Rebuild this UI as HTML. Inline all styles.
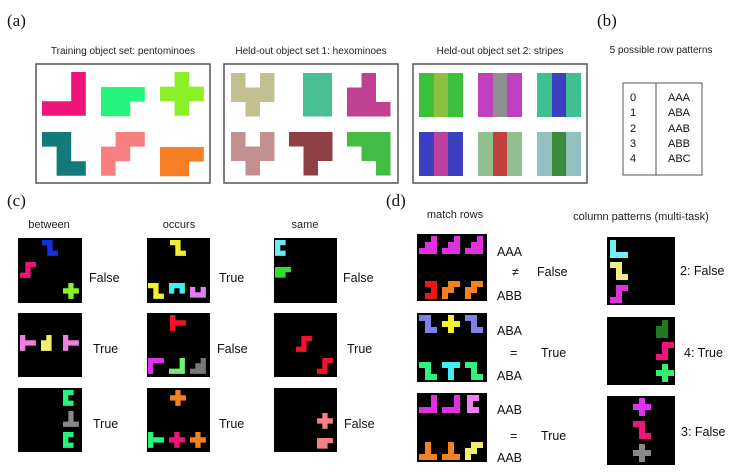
<!DOCTYPE html>
<html><head><meta charset="utf-8"><style>
html,body{margin:0;padding:0;background:#fff;}
svg{display:block;}
.t{font-family:"Liberation Sans",sans-serif;font-size:10px;fill:#222;}
.l{font-family:"Liberation Sans",sans-serif;font-size:12.5px;fill:#111;}
.p{font-family:"Liberation Serif",serif;font-size:17px;fill:#111;}
</style></head><body>
<svg width="740" height="473" viewBox="0 0 740 473" xmlns="http://www.w3.org/2000/svg">
<defs>
<path id="L" d="M2 0h1v3h-3v-1h2z"/>
<path id="P" d="M0 0h3v1h-1v1h-2z"/>
<path id="X" d="M1 0h1v1h1v1h-1v1h-1v-1h-1v-1h1z"/>
<path id="Z" d="M0 0h2v2h1v1h-2v-2h-1z"/>
<path id="W" d="M1 0h2v1h-1v1h-1v1h-1v-2h1z"/>
<path id="H1" d="M0 0h1v1h1v-1h1v2h-1v1h-1v-1h-1z"/>
<path id="H2" d="M0 0h2v3h-2z"/>
<path id="H3" d="M1 0h1v2h1v1h-3v-2h1z"/>
<path id="H4" d="M0 0h3v2h-1v1h-1v-2h-1z"/>
<path id="H5" d="M0 0h3v3h-1v-1h-1v-1h-1z"/>
<path id="S" d="M1 0h2v1h-1v2h-2v-1h1z"/>
<path id="TR" d="M0 0h1v1h2v1h-2v1h-1z"/>
<path id="YB" d="M1 0h1v3h-2v-2h1z"/>
<path id="C" d="M0 0h2v1h-1v1h1v1h-2z"/>
<path id="CR" d="M0 0h2v3h-2v-1h1v-1h-1z"/>
<path id="TU" d="M1 0h1v2h1v1h-3v-1h1z"/>
<path id="N" d="M0 0h3v2h-1v-1h-1v1h-1z"/>
<path id="U" d="M0 0h1v1h1v-1h1v2h-3z"/>
<path id="G" d="M0 0h3v1h-2v2h-1z"/>
<path id="ST" d="M2 0h1v3h-3v-1h1v-1h1z"/>
<path id="TD" d="M0 0h3v1h-1v2h-1v-2h-1z"/>
<path id="LL" d="M0 0h1v2h2v1h-3z"/>
</defs>

<text class="p" x="7" y="26">(a)</text>
<text class="p" x="597" y="26">(b)</text>
<text class="t" x="123" y="54" text-anchor="middle">Training object set: pentominoes</text>
<text class="t" x="311" y="54" text-anchor="middle">Held-out object set 1: hexominoes</text>
<text class="t" x="500" y="54" text-anchor="middle">Held-out object set 2: stripes</text>
<text class="t" x="661" y="53" text-anchor="middle">5 possible row patterns</text>

<rect x="36" y="64" width="174" height="119" fill="none" stroke="#555" stroke-width="1.5"/>
<rect x="224" y="64" width="174" height="119" fill="none" stroke="#555" stroke-width="1.5"/>
<rect x="413" y="64" width="174" height="119" fill="none" stroke="#555" stroke-width="1.5"/>

<use href="#L" transform="translate(42,72) scale(14.6)" fill="#f0147a"/>
<use href="#P" transform="translate(101,87) scale(14.6)" fill="#26f57d"/>
<use href="#X" transform="translate(160,72) scale(14.6)" fill="#8cf028"/>
<use href="#Z" transform="translate(42,132) scale(14.6)" fill="#127a78"/>
<use href="#W" transform="translate(101,132) scale(14.6)" fill="#f77f7f"/>
<use href="#P" transform="translate(160,147) scale(14.6)" fill="#f57f22"/>

<use href="#H1" transform="translate(231,73) scale(14.5)" fill="#c2c090"/>
<use href="#H2" transform="translate(303,73) scale(14.5)" fill="#48bf93"/>
<use href="#H3" transform="translate(347,73) scale(14.5)" fill="#c0418f"/>
<use href="#H1" transform="translate(231,132) scale(14.5)" fill="#c48f8f"/>
<use href="#H4" transform="translate(289,132) scale(14.5)" fill="#8f3e43"/>
<use href="#H5" transform="translate(347,132) scale(14.5)" fill="#44bb44"/>

<g>
<rect x="419" y="73" width="44" height="44" fill="#3cc03c"/><rect x="434" y="73" width="14" height="44" fill="#8ec040"/>
<rect x="478" y="73" width="44" height="44" fill="#c040c0"/><rect x="493" y="73" width="14" height="44" fill="#909090"/>
<rect x="537" y="73" width="44" height="44" fill="#40c090"/><rect x="552" y="73" width="14" height="44" fill="#3c40c0"/>
<rect x="419" y="132" width="44" height="44" fill="#3c40c0"/><rect x="434" y="132" width="14" height="44" fill="#c040a0"/>
<rect x="478" y="132" width="44" height="44" fill="#90c090"/><rect x="493" y="132" width="14" height="44" fill="#c04040"/>
<rect x="537" y="132" width="44" height="44" fill="#90c0c0"/><rect x="552" y="132" width="14" height="44" fill="#3c8c3c"/>
</g>

<rect x="623" y="83" width="79" height="92" fill="none" stroke="#555" stroke-width="1"/>
<line x1="656" y1="83" x2="656" y2="175" stroke="#555" stroke-width="1"/>
<g class="l" style="font-size:11px">
<text x="630" y="101">0</text><text x="668" y="101">AAA</text>
<text x="630" y="116">1</text><text x="668" y="116">ABA</text>
<text x="630" y="132">2</text><text x="668" y="132">AAB</text>
<text x="630" y="147">3</text><text x="668" y="147">ABB</text>
<text x="630" y="162">4</text><text x="668" y="162">ABC</text>
</g>

<!-- (c) -->
<text class="p" x="7" y="206">(c)</text>
<text class="t" x="49" y="228" text-anchor="middle" style="font-size:11px">between</text>
<text class="t" x="179" y="228" text-anchor="middle" style="font-size:11px">occurs</text>
<text class="t" x="305" y="228" text-anchor="middle" style="font-size:11px">same</text>
<g fill="#000">
<rect x="18" y="238" width="64" height="65"/><rect x="18" y="313" width="64" height="64"/><rect x="18" y="388" width="64" height="64"/>
<rect x="147" y="238" width="63" height="65"/><rect x="147" y="313" width="63" height="64"/><rect x="147" y="388" width="63" height="64"/>
<rect x="274" y="238" width="63" height="65"/><rect x="274" y="313" width="63" height="64"/><rect x="274" y="388" width="63" height="64"/>
</g>
<use href="#Z" transform="translate(42,240) scale(5.3)" fill="#1430e0"/>
<use href="#S" transform="translate(20,262) scale(5.3)" fill="#f0147a"/>
<use href="#X" transform="translate(63,283) scale(5.3)" fill="#8cf028"/>
<use href="#TR" transform="translate(20,335) scale(5.3)" fill="#f080e0"/>
<use href="#YB" transform="translate(41,335) scale(5.3)" fill="#f0f070"/>
<use href="#TR" transform="translate(63,335) scale(5.3)" fill="#f080e0"/>
<use href="#C" transform="translate(63,390) scale(5.3)" fill="#26f57d"/>
<use href="#TU" transform="translate(63,411) scale(5.3)" fill="#888"/>
<use href="#C" transform="translate(63,432) scale(5.3)" fill="#26f57d"/>

<use href="#Z" transform="translate(170,240) scale(5.3)" fill="#f0f030"/>
<use href="#Z" transform="translate(148,283) scale(5.3)" fill="#f0f030"/>
<use href="#N" transform="translate(169,283) scale(5.3)" fill="#40f0f0"/>
<use href="#U" transform="translate(190,287) scale(5.3)" fill="#e080f0"/>
<use href="#TR" transform="translate(170,315) scale(5.3)" fill="#f01428"/>
<use href="#G" transform="translate(148,358) scale(5.3)" fill="#e030f0"/>
<use href="#L" transform="translate(169,358) scale(5.3)" fill="#70f070"/>
<use href="#ST" transform="translate(190,358) scale(5.3)" fill="#777"/>
<use href="#X" transform="translate(170,390) scale(5.3)" fill="#f58020"/>
<use href="#TR" transform="translate(148,432) scale(5.3)" fill="#26f57d"/>
<use href="#X" transform="translate(169,432) scale(5.3)" fill="#f0147a"/>
<use href="#X" transform="translate(190,432) scale(5.3)" fill="#f58020"/>

<use href="#C" transform="translate(275,240) scale(5.3)" fill="#70e8f0"/>
<use href="#P" transform="translate(275,267) scale(5.3)" fill="#30e030"/>
<use href="#S" transform="translate(296,336) scale(5.3)" fill="#f01428"/>
<use href="#S" transform="translate(317,358) scale(5.3)" fill="#f01428"/>
<use href="#X" transform="translate(317,413) scale(5.3)" fill="#f58080"/>
<use href="#P" transform="translate(317,438) scale(5.3)" fill="#f58080"/>

<g class="l">
<text x="89" y="282">False</text><text x="93" y="353">True</text><text x="93" y="428">True</text>
<text x="219" y="282">True</text><text x="217" y="353">False</text><text x="219" y="428">True</text>
<text x="343" y="282">False</text><text x="347" y="353">True</text><text x="344" y="428">False</text>
</g>

<!-- (d) -->
<text class="p" x="386" y="206">(d)</text>
<text class="t" x="455" y="218" text-anchor="middle" style="font-size:11px">match rows</text>
<text class="t" x="641" y="220" text-anchor="middle" style="font-size:11px">column patterns (multi-task)</text>
<g fill="#000">
<rect x="417" y="234" width="70" height="67"/><rect x="417" y="313" width="70" height="69"/><rect x="417" y="393" width="70" height="69"/>
<rect x="607" y="237" width="68" height="68"/><rect x="607" y="317" width="68" height="68"/><rect x="607" y="396" width="68" height="69"/>
</g>
<use href="#ST" transform="translate(419,236) scale(6)" fill="#e030e0"/>
<use href="#ST" transform="translate(442,236) scale(6)" fill="#e030e0"/>
<use href="#ST" transform="translate(465,236) scale(6)" fill="#e030e0"/>
<use href="#CR" transform="translate(425,281) scale(6)" fill="#f01414"/>
<use href="#W" transform="translate(442,281) scale(6)" fill="#f58020"/>
<use href="#W" transform="translate(465,281) scale(6)" fill="#f58020"/>
<use href="#Z" transform="translate(419,315) scale(6)" fill="#8080e8"/>
<use href="#X" transform="translate(442,315) scale(6)" fill="#f0f030"/>
<use href="#Z" transform="translate(465,315) scale(6)" fill="#8080e8"/>
<use href="#Z" transform="translate(419,362) scale(6)" fill="#30f080"/>
<use href="#TD" transform="translate(442,362) scale(6)" fill="#40f0f0"/>
<use href="#Z" transform="translate(465,362) scale(6)" fill="#30f080"/>
<use href="#L" transform="translate(419,395) scale(6)" fill="#e030e0"/>
<use href="#L" transform="translate(442,395) scale(6)" fill="#e030e0"/>
<use href="#C" transform="translate(467,395) scale(6)" fill="#f080f0"/>
<use href="#TU" transform="translate(419,442) scale(6)" fill="#f58020"/>
<use href="#TU" transform="translate(442,442) scale(6)" fill="#f58020"/>
<use href="#W" transform="translate(465,442) scale(6)" fill="#f0f070"/>

<use href="#LL" transform="translate(610,240) scale(6)" fill="#70f0f0"/>
<use href="#Z" transform="translate(610,262) scale(6)" fill="#f0f080"/>
<use href="#S" transform="translate(610,285) scale(6)" fill="#e030e0"/>
<use href="#YB" transform="translate(656,320) scale(6)" fill="#207a20"/>
<use href="#S" transform="translate(656,342) scale(6)" fill="#f0147a"/>
<use href="#X" transform="translate(656,364) scale(6)" fill="#30f070"/>
<use href="#X" transform="translate(633,398) scale(6)" fill="#e030f0"/>
<use href="#Z" transform="translate(633,421) scale(6)" fill="#f0147a"/>
<use href="#X" transform="translate(633,444) scale(6)" fill="#888"/>

<g class="l">
<text x="497" y="256">AAA</text><text x="512" y="276">≠</text><text x="497" y="300">ABB</text><text x="537" y="276">False</text>
<text x="497" y="335">ABA</text><text x="510" y="357">=</text><text x="497" y="380">ABA</text><text x="541" y="357">True</text>
<text x="497" y="414">AAB</text><text x="510" y="440">=</text><text x="497" y="462">AAB</text><text x="541" y="440">True</text>
<text x="680" y="275">2: False</text><text x="684" y="357">4: True</text><text x="681" y="436">3: False</text>
</g>
</svg>
</body></html>
